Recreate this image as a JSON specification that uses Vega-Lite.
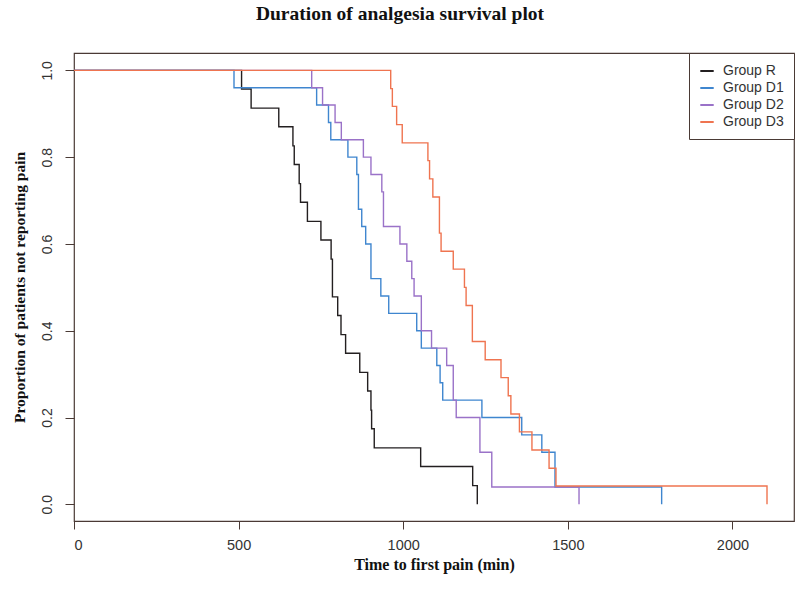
{
  "$schema": "https://vega.github.io/schema/vega-lite/v6.json",
  "width": 720,
  "height": 468,
  "autosize": {"type": "none"},
  "padding": {"left": 74, "top": 53, "right": 6, "bottom": 71},
  "background": "white",
  "title": {
    "text": "Duration of analgesia survival plot",
    "font": "Liberation Serif",
    "fontSize": 19.5,
    "fontWeight": "bold",
    "color": "#111",
    "anchor": "middle",
    "dx": -34,
    "offset": 28
  },
  "data": {
    "values": [
      {"group": "Group R", "time": 0, "surv": 1.0},
      {"group": "Group R", "time": 509, "surv": 0.957},
      {"group": "Group R", "time": 538, "surv": 0.913},
      {"group": "Group R", "time": 622, "surv": 0.870},
      {"group": "Group R", "time": 665, "surv": 0.826},
      {"group": "Group R", "time": 669, "surv": 0.783},
      {"group": "Group R", "time": 684, "surv": 0.739},
      {"group": "Group R", "time": 688, "surv": 0.696},
      {"group": "Group R", "time": 709, "surv": 0.652},
      {"group": "Group R", "time": 750, "surv": 0.609},
      {"group": "Group R", "time": 781, "surv": 0.565},
      {"group": "Group R", "time": 785, "surv": 0.478},
      {"group": "Group R", "time": 801, "surv": 0.435},
      {"group": "Group R", "time": 811, "surv": 0.391},
      {"group": "Group R", "time": 825, "surv": 0.348},
      {"group": "Group R", "time": 868, "surv": 0.304},
      {"group": "Group R", "time": 892, "surv": 0.261},
      {"group": "Group R", "time": 902, "surv": 0.217},
      {"group": "Group R", "time": 904, "surv": 0.174},
      {"group": "Group R", "time": 912, "surv": 0.130},
      {"group": "Group R", "time": 1053, "surv": 0.087},
      {"group": "Group R", "time": 1211, "surv": 0.043},
      {"group": "Group R", "time": 1225, "surv": 0.0},

      {"group": "Group D1", "time": 0, "surv": 1.0},
      {"group": "Group D1", "time": 486, "surv": 0.96},
      {"group": "Group D1", "time": 737, "surv": 0.92},
      {"group": "Group D1", "time": 773, "surv": 0.88},
      {"group": "Group D1", "time": 780, "surv": 0.84},
      {"group": "Group D1", "time": 832, "surv": 0.80},
      {"group": "Group D1", "time": 859, "surv": 0.76},
      {"group": "Group D1", "time": 864, "surv": 0.68},
      {"group": "Group D1", "time": 874, "surv": 0.64},
      {"group": "Group D1", "time": 886, "surv": 0.60},
      {"group": "Group D1", "time": 902, "surv": 0.52},
      {"group": "Group D1", "time": 932, "surv": 0.48},
      {"group": "Group D1", "time": 956, "surv": 0.44},
      {"group": "Group D1", "time": 1041, "surv": 0.40},
      {"group": "Group D1", "time": 1055, "surv": 0.36},
      {"group": "Group D1", "time": 1102, "surv": 0.32},
      {"group": "Group D1", "time": 1112, "surv": 0.28},
      {"group": "Group D1", "time": 1120, "surv": 0.24},
      {"group": "Group D1", "time": 1239, "surv": 0.20},
      {"group": "Group D1", "time": 1360, "surv": 0.16},
      {"group": "Group D1", "time": 1421, "surv": 0.12},
      {"group": "Group D1", "time": 1461, "surv": 0.04},
      {"group": "Group D1", "time": 1785, "surv": 0.0},

      {"group": "Group D2", "time": 0, "surv": 1.0},
      {"group": "Group D2", "time": 722, "surv": 0.96},
      {"group": "Group D2", "time": 755, "surv": 0.92},
      {"group": "Group D2", "time": 793, "surv": 0.88},
      {"group": "Group D2", "time": 812, "surv": 0.84},
      {"group": "Group D2", "time": 879, "surv": 0.80},
      {"group": "Group D2", "time": 902, "surv": 0.76},
      {"group": "Group D2", "time": 935, "surv": 0.72},
      {"group": "Group D2", "time": 940, "surv": 0.64},
      {"group": "Group D2", "time": 990, "surv": 0.60},
      {"group": "Group D2", "time": 1011, "surv": 0.56},
      {"group": "Group D2", "time": 1026, "surv": 0.52},
      {"group": "Group D2", "time": 1033, "surv": 0.48},
      {"group": "Group D2", "time": 1055, "surv": 0.40},
      {"group": "Group D2", "time": 1086, "surv": 0.36},
      {"group": "Group D2", "time": 1132, "surv": 0.32},
      {"group": "Group D2", "time": 1152, "surv": 0.24},
      {"group": "Group D2", "time": 1161, "surv": 0.20},
      {"group": "Group D2", "time": 1233, "surv": 0.12},
      {"group": "Group D2", "time": 1269, "surv": 0.04},
      {"group": "Group D2", "time": 1534, "surv": 0.0},

      {"group": "Group D3", "time": 0, "surv": 1.0},
      {"group": "Group D3", "time": 962, "surv": 0.958},
      {"group": "Group D3", "time": 967, "surv": 0.917},
      {"group": "Group D3", "time": 980, "surv": 0.875},
      {"group": "Group D3", "time": 997, "surv": 0.833},
      {"group": "Group D3", "time": 1075, "surv": 0.792},
      {"group": "Group D3", "time": 1080, "surv": 0.750},
      {"group": "Group D3", "time": 1090, "surv": 0.708},
      {"group": "Group D3", "time": 1110, "surv": 0.625},
      {"group": "Group D3", "time": 1115, "surv": 0.583},
      {"group": "Group D3", "time": 1152, "surv": 0.542},
      {"group": "Group D3", "time": 1186, "surv": 0.500},
      {"group": "Group D3", "time": 1191, "surv": 0.458},
      {"group": "Group D3", "time": 1210, "surv": 0.375},
      {"group": "Group D3", "time": 1249, "surv": 0.333},
      {"group": "Group D3", "time": 1297, "surv": 0.292},
      {"group": "Group D3", "time": 1319, "surv": 0.250},
      {"group": "Group D3", "time": 1327, "surv": 0.208},
      {"group": "Group D3", "time": 1353, "surv": 0.167},
      {"group": "Group D3", "time": 1391, "surv": 0.125},
      {"group": "Group D3", "time": 1443, "surv": 0.083},
      {"group": "Group D3", "time": 1464, "surv": 0.042},
      {"group": "Group D3", "time": 2105, "surv": 0.0}
    ]
  },
  "encoding": {
    "x": {
      "field": "time",
      "type": "quantitative",
      "scale": {"domain": [0, 2187], "nice": false, "zero": false},
      "axis": {
        "title": "Time to first pain (min)",
        "values": [0, 500, 1000, 1500, 2000],
        "format": "d",
        "grid": false,
        "domain": false,
        "tickSize": 8,
        "tickColor": "#4a3a35",
        "labelFont": "Liberation Sans",
        "labelFontSize": 14.5,
        "labelColor": "#333",
        "labelPadding": 9,
        "titleFont": "Liberation Serif",
        "titleFontSize": 16,
        "titleFontWeight": "bold",
        "titleColor": "#111",
        "titlePadding": 5
      }
    },
    "y": {
      "field": "surv",
      "type": "quantitative",
      "scale": {"domain": [-0.0385, 1.04], "nice": false, "zero": false},
      "axis": {
        "title": "Proportion of patients not reporting pain",
        "values": [0, 0.2, 0.4, 0.6, 0.8, 1.0],
        "format": ".1f",
        "grid": false,
        "domain": false,
        "tickSize": 9,
        "tickColor": "#4a3a35",
        "labelAngle": 270,
        "labelAlign": "center",
        "labelBaseline": "bottom",
        "labelFont": "Liberation Sans",
        "labelFontSize": 14,
        "labelColor": "#333",
        "labelPadding": 11,
        "titleFont": "Liberation Serif",
        "titleFontSize": 15.5,
        "titleFontWeight": "bold",
        "titleColor": "#111",
        "titlePadding": 13
      }
    },
    "color": {
      "field": "group",
      "type": "nominal",
      "scale": {
        "domain": ["Group R", "Group D1", "Group D2", "Group D3"],
        "range": ["#231f20", "#3f86cf", "#9a72c8", "#ef7450"]
      },
      "legend": {
        "title": null,
        "orient": "top-right",
        "offset": 0,
        "padding": 10,
        "strokeColor": "#4a3a35",
        "fillColor": "white",
        "symbolType": "stroke",
        "symbolSize": 180,
        "symbolStrokeWidth": 2,
        "labelFont": "Liberation Sans",
        "labelFontSize": 14,
        "labelColor": "#333",
        "rowPadding": 2,
        "labelOffset": 8
      }
    }
  },
  "layer": [
    {"transform": [{"filter": "datum.group === 'Group R'"}], "mark": {"type": "line", "interpolate": "step-after", "strokeWidth": 1.4}},
    {"transform": [{"filter": "datum.group === 'Group D1'"}], "mark": {"type": "line", "interpolate": "step-after", "strokeWidth": 1.4}},
    {"transform": [{"filter": "datum.group === 'Group D2'"}], "mark": {"type": "line", "interpolate": "step-after", "strokeWidth": 1.4}},
    {"transform": [{"filter": "datum.group === 'Group D3'"}], "mark": {"type": "line", "interpolate": "step-after", "strokeWidth": 1.4}}
  ],
  "config": {
    "view": {"stroke": "#4a3a35", "strokeWidth": 1.2}
  }
}
